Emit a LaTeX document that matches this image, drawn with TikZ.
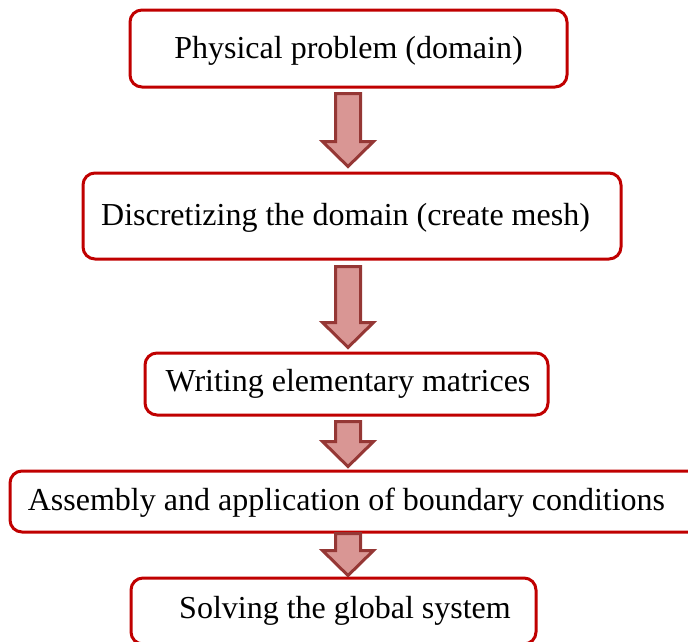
\documentclass[tikz,border=0pt]{standalone}
\usepackage{fontspec}
\setmainfont{Liberation Serif}
\usetikzlibrary{calc}
\definecolor{boxred}{RGB}{192,0,0}
\definecolor{arrfill}{RGB}{217,150,148}
\definecolor{arrline}{RGB}{149,55,53}
\tikzset{
  stage/.style={draw=boxred, line width=3pt, rounded corners=12pt, fill=white, inner sep=0pt},
  label/.style={font=\fontsize{32}{36}\selectfont, inner sep=0pt, anchor=center},
  fatarr/.style={draw=arrline, fill=arrfill, line width=3pt, line join=miter},
}
\newcommand\fatarrow[2]{%
  \path let \p1=(#1), \p2=(#2) in
    [fatarr] (\x1-12.5pt,\y1) -- (\x1+12.5pt,\y1) -- (\x1+12.5pt,\y2+25pt) -- (\x1+25.5pt,\y2+25pt)
    -- (\x1,\y2) -- (\x1-25.5pt,\y2+25pt) -- (\x1-12.5pt,\y2+25pt) -- cycle;}
\begin{document}
\begin{tikzpicture}[x=1pt,y=-1pt]
\useasboundingbox (0,0) rectangle (688,641);
\begin{scope}
\clip (0,0) rectangle (688,641);
\node[stage, minimum width=437pt, minimum height=77pt] (b1) at (348.5,48.5) {};
\node[stage, minimum width=538pt, minimum height=86pt] (b2) at (352,216) {};
\node[stage, minimum width=403pt, minimum height=62pt] (b3) at (346.5,384) {};
\node[stage, minimum width=700pt, minimum height=61pt] (b4) at (360,501.5) {};
\node[stage, minimum width=405pt, minimum height=66pt] (b5) at (333.5,611) {};
\node[label] (t1) at (348.5,50.5) {Physical problem (domain)};
\node[label] (t2) at (345.5,217.5) {Discretizing the domain (create mesh)};
\node[label] (t3) at (348,384) {Writing elementary matrices};
\node[label] (t4) at (346.5,503) {Assembly and application of boundary conditions};
\node[label] (t5) at (345,611) {Solving the global system};
\coordinate (ax) at (348,0);
\coordinate (s1) at ($(b1.south -| ax)+(0,5)$);
\coordinate (e1) at ($(b2.north -| ax)+(0,-5)$);
\coordinate (s2) at ($(b2.south -| ax)+(0,6)$);
\coordinate (e2) at ($(b3.north -| ax)+(0,-4)$);
\coordinate (s3) at ($(b3.south -| ax)+(0,5)$);
\coordinate (e3) at ($(b4.north -| ax)+(0,-3)$);
\coordinate (s4) at ($(b4.south -| ax)+(0,0)$);
\coordinate (e4) at ($(b5.north -| ax)+(0,-1)$);
\fatarrow{s1}{e1}
\fatarrow{s2}{e2}
\fatarrow{s3}{e3}
\fatarrow{s4}{e4}
\end{scope}
\end{tikzpicture}
\end{document}
